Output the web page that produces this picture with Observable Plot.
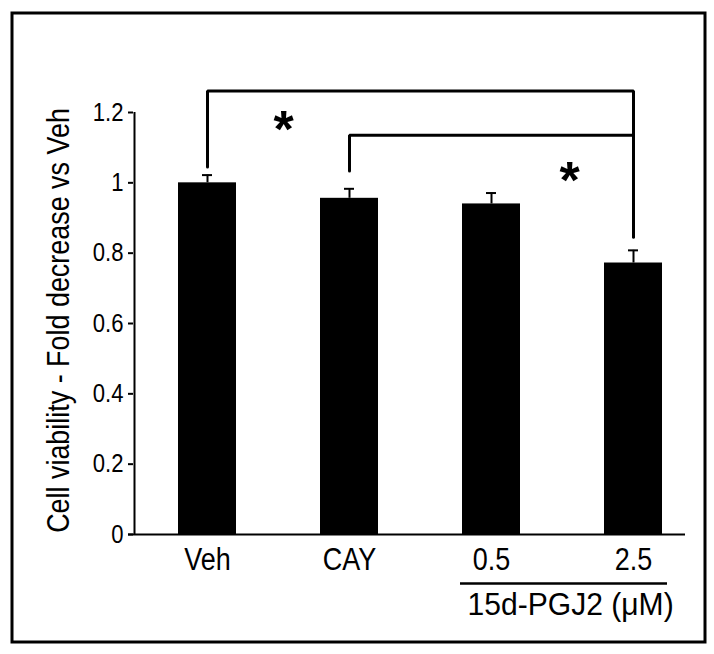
<!DOCTYPE html>
<html><head><meta charset="utf-8">
<script src="https://cdn.jsdelivr.net/npm/d3@7"></script>
<script src="https://cdn.jsdelivr.net/npm/@observablehq/plot@0.6"></script>
<style>
body{margin:0;background:#fff}
#chart{width:714px;height:654px}
</style>
</head><body><div id="chart"></div>
<script>
const categories = ["Veh", "CAY", "0.5", "2.5"];
const means = [1.0, 0.956, 0.94, 0.772];
const errors = [0.022, 0.027, 0.031, 0.036];
const yTicks = [0, 0.2, 0.4, 0.6, 0.8, 1, 1.2];
const yTickLabels = ["0", "0.2", "0.4", "0.6", "0.8", "1", "1.2"];
const yLabel = "Cell viability - Fold decrease vs Veh";
const groupLabel = "15d-PGJ2 (μM)";
const groupMembers = ["0.5", "2.5"];
const bracketFrom = ["Veh", "CAY"];
const bracketTo = ["2.5", "2.5"];
const bracketTop = [1.261, 1.135];
const bracketFromY = [1.045, 1.034];
const bracketToY = [0.846, 0.846];
const starAt = ["Veh", "0.5"];
const starY = [1.148, 1.003];
const starText = ["*", "*"];

const SANS = "'Liberation Sans',Arial,sans-serif";

const data = categories.map((c, i) => ({cat: c, mean: means[i], err: errors[i]}));
const bracketPts = [];
bracketFrom.forEach((f, i) => {
  bracketPts.push({id: i, x: f, y: bracketFromY[i]});
  bracketPts.push({id: i, x: f, y: bracketTop[i]});
  bracketPts.push({id: i, x: bracketTo[i], y: bracketTop[i]});
  bracketPts.push({id: i, x: bracketTo[i], y: bracketToY[i]});
});
const starOffsets = [76, 78];
const stars = starAt.map((a, i) => ({at: a, y: starY[i], t: starText[i]}));

const chart = Plot.plot({
  width: 714,
  height: 654,
  marginLeft: 133,
  marginRight: 29,
  marginTop: 112,
  marginBottom: 120,
  style: {fontFamily: SANS, color: "black", background: "white", overflow: "visible"},
  x: {domain: categories, paddingInner: 0.592, paddingOuter: 0.235, align: 0.657},
  y: {domain: [0, 1.2]},
  marks: [
    Plot.frame({insetLeft: -121.5, insetTop: -99.5, insetRight: -19.5, insetBottom: -107.5, stroke: "black", strokeWidth: 3}),
    Plot.barY(data, {x: "cat", y: "mean", fill: "black"}),
    Plot.ruleX(data, {x: "cat", y1: "mean", y2: d => d.mean + d.err, stroke: "black", strokeWidth: 2}),
    Plot.tickY(data, {x: "cat", y: d => d.mean + d.err, insetLeft: 24, insetRight: 24, stroke: "black", strokeWidth: 2}),
    Plot.ruleY([0], {stroke: "black", strokeWidth: 2, insetLeft: -5}),
    Plot.ruleX([yTicks[yTicks.length - 1]], {x: () => categories[0], y1: () => yTicks[0], y2: d => d, dx: -73, stroke: "black", strokeWidth: 2}),
    Plot.axisY({ticks: yTicks, tickFormat: d => yTickLabels[yTicks.indexOf(d)], tickSize: 5, tickPadding: 5, label: null, fontSize: 26, strokeWidth: 2}),
    Plot.axisX({tickSize: 0, tickPadding: 13, label: null, fontSize: 31}),
    Plot.line(bracketPts, {x: "x", y: "y", z: "id", stroke: "black", strokeWidth: 3, strokeLinejoin: "miter"}),
    ...stars.map((s, i) => Plot.text([s], {x: "at", y: "y", text: "t", dx: starOffsets[i], fontSize: 52, fontWeight: "bold"})),
    Plot.ruleY([groupLabel], {x1: () => groupMembers[0], x2: () => groupMembers[1], y: () => 0, dy: 49, insetLeft: -2, insetRight: -5, stroke: "black", strokeWidth: 2.5}),
    Plot.text([groupLabel], {x: () => groupMembers[0], y: () => 0, text: d => d, textAnchor: "start", dx: -24, dy: 71, fontSize: 31}),
    Plot.text([yLabel], {frameAnchor: "left", textAnchor: "middle", text: d => d, rotate: -90, dx: -74, dy: -3, fontSize: 31})
  ]
});
document.getElementById("chart").appendChild(chart);

const svg = d3.select(chart);
function condense(sel, factor) {
  sel.each(function () {
    const L = this.getComputedTextLength();
    this.setAttribute("textLength", L * factor);
    this.setAttribute("lengthAdjust", "spacingAndGlyphs");
  });
}
const allText = svg.selectAll("text");
condense(allText.filter(function () { return yTickLabels.includes(this.textContent); }), 0.85);
condense(allText.filter(function () { return categories.includes(this.textContent) && !yTickLabels.includes(this.textContent); }), 0.87);
condense(allText.filter(function () { return this.textContent === yLabel; }), 0.868);
condense(allText.filter(function () { return this.textContent === groupLabel; }), 0.97);
</script>
</body></html>
